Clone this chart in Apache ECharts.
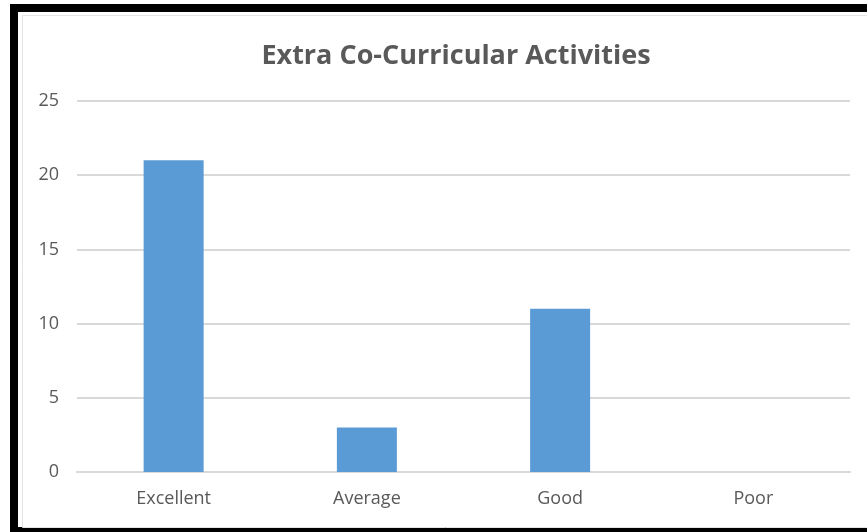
<!DOCTYPE html>
<html>
<head>
<meta charset="utf-8">
<style>
html,body{margin:0;padding:0;background:#fff;}
#chart{width:867px;height:532px;}
</style>
<script src="https://cdn.jsdelivr.net/npm/echarts@6/dist/echarts.min.js"></script>
</head>
<body>
<div id="chart"></div>
<script>
const categories = ['Excellent', 'Average', 'Good', 'Poor'];
const values = [21, 3, 11, 0];
const titleText = 'Extra Co-Curricular Activities';

const chart = echarts.init(document.getElementById('chart'), null, {renderer: 'canvas'});
chart.setOption({
  animation: false,
  backgroundColor: '#ffffff',
  title: {
    text: titleText,
    left: 451,
    textAlign: 'center',
    top: 38,
    textStyle: {fontFamily: 'Open Sans', fontWeight: 'bold', fontSize: 27, color: '#595959'}
  },
  graphic: [
    {type: 'rect', left: 10, top: 4, shape: {width: 857, height: 8}, style: {fill: '#000'}},
    {type: 'rect', left: 10, top: 4, shape: {width: 8, height: 528}, style: {fill: '#000'}},
    {type: 'rect', left: 10, top: 527, shape: {width: 857, height: 5}, style: {fill: '#000'}},
    {type: 'rect', left: 20, top: 13, shape: {width: 847, height: 512}, style: {fill: 'none', stroke: '#e4e4e4', lineWidth: 1}}
  ],
  grid: {left: 77, right: 17, top: 101, bottom: 60, containLabel: false},
  xAxis: {
    type: 'category',
    data: categories,
    axisLine: {show: true, lineStyle: {color: '#d9d9d9', width: 2}},
    axisTick: {show: false},
    axisLabel: {color: '#595959', fontFamily: 'Open Sans', fontSize: 18, margin: 18}
  },
  yAxis: {
    type: 'value',
    min: 0, max: 25, interval: 5,
    axisLine: {show: false},
    axisTick: {show: false},
    splitLine: {lineStyle: {color: '#d9d9d9', width: 2}},
    axisLabel: {color: '#595959', fontFamily: 'Open Sans', fontSize: 18, margin: 18}
  },
  series: [{
    type: 'bar',
    data: values,
    barWidth: 60,
    itemStyle: {color: '#5B9BD5'}
  }]
});
</script>
</body>
</html>
